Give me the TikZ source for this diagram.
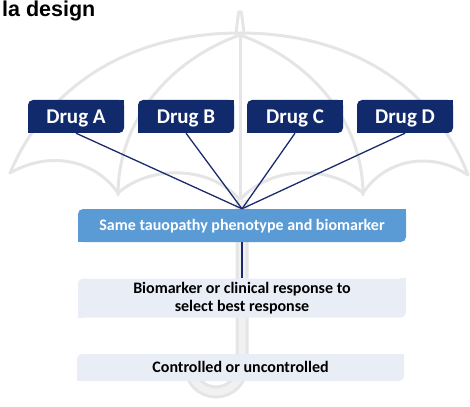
\documentclass[tikz,border=0pt]{standalone}
\usepackage{fontspec}
\setmainfont{Carlito}
\newfontfamily\titlefont{Liberation Sans}
\definecolor{navy}{HTML}{102A6B}
\definecolor{connc}{HTML}{1B2A6E}
\definecolor{midblue}{HTML}{5B9BD5}
\definecolor{paleblue}{HTML}{E9EDF6}
\definecolor{umbgray}{HTML}{E5E5E5}
\definecolor{umblight}{HTML}{F1F1F1}
\newcommand{\sharpcorners}[2]{%
  \fill[#2] (#1.north east) rectangle ++(-6,6);
  \fill[#2] (#1.south west) rectangle ++(6,-6);}
\begin{document}
\begin{tikzpicture}[x=1pt,y=-1pt,
  umb/.style={draw=umbgray, line width=3pt, line cap=round, line join=round},
  drugbox/.style={fill=navy, rounded corners=5pt, minimum width=96pt, minimum height=33pt,
    inner sep=0pt, text=white, font=\fontsize{21}{24}\selectfont\bfseries,
    text height=13.5pt, text depth=0pt},
  bigbox/.style={rounded corners=5pt, minimum width=328pt, inner sep=0pt,
    font=\fontsize{16}{18}\selectfont\bfseries, align=center},
  conn/.style={draw=connc, line width=1.3pt}
]
\useasboundingbox (0,0) rectangle (470,406);
% umbrella background
\draw[umb] (236,33) -- (238.6,12) -- (241.4,12) -- (244,33);
\draw[umb] (10,173) .. controls (45,90) and (125,33) .. (240,33)
  .. controls (355,33) and (435,90) .. (468,175);
\draw[umb] (240,35) .. controls (170,60) and (118,120) .. (118,195);
\draw[umb] (240,35) .. controls (310,60) and (363,120) .. (363,195);
\draw[umb] (240,33) -- (240,200);
\draw[umb] (10,173) .. controls (50,150) and (95,160) .. (118,193)
  .. controls (150,165) and (210,165) .. (240,200)
  .. controls (270,165) and (330,165) .. (363,193)
  .. controls (385,160) and (430,150) .. (468,175);
\draw[draw=umbgray, line width=3pt, double=umblight, double distance=7pt]
  (242,200) -- (242,366) arc[start angle=0, end angle=-180, radius=26pt] -- (190,360);
% title
\node[anchor=base west, inner sep=0pt, font=\titlefont\fontsize{21.5}{24}\selectfont\bfseries]
  (title) at (2,16.5) {la design};
% drug boxes
\node[drugbox] (A) at (76,116.5) {Drug A};
\node[drugbox] (B) at (186,116.5) {Drug B};
\node[drugbox] (C) at (295,116.5) {Drug C};
\node[drugbox] (D) at (405,116.5) {Drug D};
\foreach \n in {A,B,C,D} {\sharpcorners{\n}{navy}}
% main boxes
\node[bigbox, fill=midblue, text=white, minimum height=33pt, text height=10.5pt, text depth=0pt]
  (S) at (242,225.5) {Same tauopathy phenotype and biomarker};
\node[bigbox, fill=paleblue, text=black, minimum height=39pt]
  (R) at (242,298) {Biomarker or clinical response to\\select best response};
\node[bigbox, fill=paleblue, text=black, minimum height=27pt, minimum width=327pt,
  text height=10.5pt, text depth=0pt]
  (K) at (240.5,367.5) {Controlled or uncontrolled};
\sharpcorners{S}{midblue}
\sharpcorners{R}{paleblue}
\sharpcorners{K}{paleblue}
% connectors
\foreach \n in {A,B,C,D} {\draw[conn] (\n.south) -- (S.north);}
\draw[conn] (S.south) -- (R.north);
\end{tikzpicture}
\end{document}
